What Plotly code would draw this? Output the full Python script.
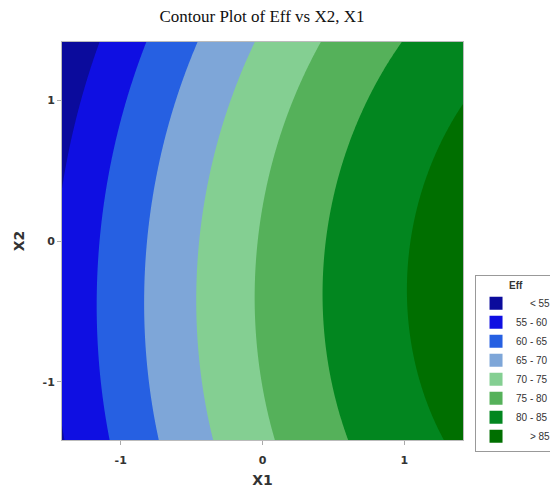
import numpy as np
import plotly.graph_objects as go

# Fitted response-surface coefficients
b0 = 75.38
b1 = 11.2
b11 = -1.9
b2 = -1.213
b22 = -1.52
b12 = 0.15

x1_range = [-1.414, 1.414]
x2_range = [-1.414, 1.414]
levels = [55, 60, 65, 70, 75, 80, 85]
band_labels = ["< 55", "55 - 60", "60 - 65", "65 - 70", "70 - 75", "75 - 80", "80 - 85", "> 85"]
band_colors = ["#0B0B9C", "#0F0FE2", "#2660E2", "#7EA6D8", "#84CF92", "#55B15A", "#02861F", "#006F00"]
tick_vals = [-1, 0, 1]
tick_text = ["<b>-1</b>", "<b>0</b>", "<b>1</b>"]

x1 = np.linspace(x1_range[0], x1_range[1], 241)
x2 = np.linspace(x2_range[0], x2_range[1], 241)
X1, X2 = np.meshgrid(x1, x2)
Z = b0 + b1 * X1 + b11 * X1**2 + b2 * X2 + b22 * X2**2 + b12 * X1 * X2

n = len(band_colors)
cs = []
for k, c in enumerate(band_colors):
    lo = max(0.0, (k - 0.5) / (n - 1))
    hi = min(1.0, (k + 0.5) / (n - 1))
    cs.append([lo, c])
    cs.append([hi, c])

fig = go.Figure()
fig.add_trace(go.Contour(
    x=x1, y=x2, z=Z,
    autocontour=False,
    contours=dict(start=levels[0], end=levels[-1], size=5, coloring="fill", showlines=False),
    line=dict(width=0),
    colorscale=cs,
    showscale=False,
    hoverinfo="skip",
))

nb = "\u00a0"
for lab, col in zip(band_labels, band_colors):
    if lab.startswith("<") or lab.startswith(">"):
        txt = nb * 5 + lab.replace(" ", nb)
    else:
        txt = lab.replace(" ", nb)
    fig.add_trace(go.Scatter(
        x=[None], y=[None], mode="markers", name=txt,
        marker=dict(symbol="square", size=13, color=col),
        showlegend=True,
    ))

W, H = 550, 480
fig.update_layout(
    width=W, height=H,
    margin=dict(l=54, r=95, t=34, b=48, autoexpand=False),
    paper_bgcolor="white", plot_bgcolor="white",
    title=dict(text="Contour Plot of Eff vs X2, X1", x=(54 + 200) / W, xanchor="center",
               y=1 - 8 / H, yanchor="middle",
               font=dict(family="Liberation Serif", size=17, color="#111")),
    xaxis=dict(range=x1_range, tickvals=tick_vals, ticktext=tick_text, ticks="outside",
               ticklen=4, tickcolor="#aaa", showline=True, linecolor="#bbb", mirror=True,
               showgrid=False, zeroline=False, ticklabelstandoff=6,
               tickfont=dict(family="DejaVu Sans", size=11, color="#333"),
               title=dict(text="<b>X1</b>", font=dict(family="DejaVu Sans", size=14, color="#333"), standoff=8)),
    yaxis=dict(range=x2_range, tickvals=tick_vals, ticktext=tick_text, ticks="outside",
               ticklen=4, tickcolor="#aaa", showline=True, linecolor="#bbb", mirror=True,
               showgrid=False, zeroline=False,
               tickfont=dict(family="DejaVu Sans", size=11, color="#333"),
               title=dict(text="<b>X2</b>", font=dict(family="DejaVu Sans", size=14, color="#333"), standoff=14)),
    legend=dict(x=1.03, xanchor="left", y=0.415, yanchor="top",
                bordercolor="#999", borderwidth=1, bgcolor="white",
                title=dict(text="<b>Eff</b>", side="top center", font=dict(family="Liberation Sans", size=10, color="#333")),
                font=dict(family="Liberation Sans", size=10, color="#333"),
                tracegroupgap=0, itemwidth=30),
)

fig.write_html("out.html")
